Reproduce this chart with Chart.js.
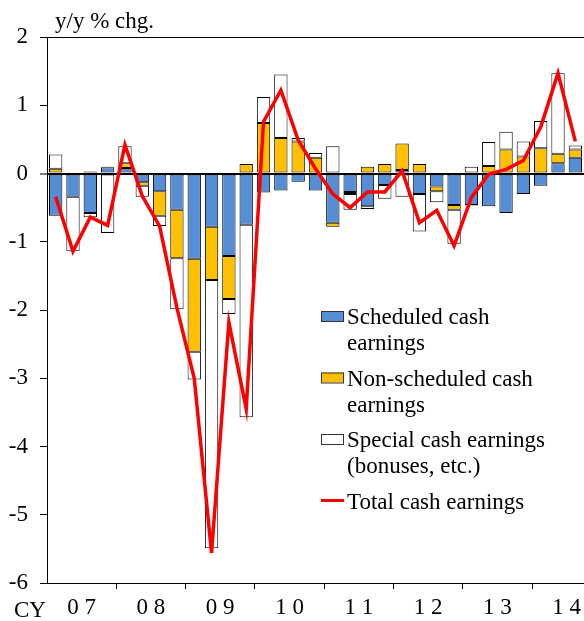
<!DOCTYPE html>
<html>
<head>
<meta charset="utf-8">
<script src="https://cdn.jsdelivr.net/npm/chart.js@4.4.1/dist/chart.umd.min.js"></script>
<style>html,body{margin:0;padding:0;background:#fff}</style>
</head>
<body>
<canvas id="myChart" width="584" height="621"></canvas>
<script>
// quarters, CY2007 Q1 .. CY2014 Q3
const quarters = [
  '07Q1','07Q2','07Q3','07Q4','08Q1','08Q2','08Q3','08Q4',
  '09Q1','09Q2','09Q3','09Q4','10Q1','10Q2','10Q3','10Q4',
  '11Q1','11Q2','11Q3','11Q4','12Q1','12Q2','12Q3','12Q4',
  '13Q1','13Q2','13Q3','13Q4','14Q1','14Q2','14Q3'
];
const yearLabels = ['0 7', '0 8', '0 9', '1 0', '1 1', '1 2', '1 3', '1 4'];

// y/y % chg. contributions
const scheduled = [
  -0.62, -0.34, -0.58, 0.09, 0.08, -0.13, -0.26, -0.53,
  -1.25, -0.78, -1.21, -0.75, -0.28, -0.25, -0.12, -0.25,
  -0.72, -0.27, -0.48, -0.17, 0.05, -0.30, -0.19, -0.46,
  -0.46, -0.48, -0.58, -0.30, -0.18, 0.15, 0.23
];
const nonScheduled = [
  0.07, 0.00, 0.03, 0.01, 0.07, -0.05, -0.36, -0.71,
  -1.36, -0.78, -0.63, 0.14, 0.74, 0.52, 0.47, 0.23,
  -0.06, -0.03, 0.10, 0.14, 0.39, 0.14, -0.07, -0.07,
  -0.01, 0.11, 0.35, 0.25, 0.37, 0.14, 0.12
];
const special = [
  0.21, -0.80, -0.06, -0.87, 0.25, -0.16, -0.15, -0.75,
  -0.41, -3.93, -0.22, -2.82, 0.38, 0.93, 0.05, 0.07,
  0.40, -0.23, -0.04, -0.20, -0.34, -0.55, -0.16, -0.50,
  0.10, 0.35, 0.26, 0.22, 0.40, 1.18, 0.06
];
const total = [
  -0.34, -1.14, -0.64, -0.76, 0.42, -0.33, -0.77, -1.97,
  -3.00, -5.56, -2.18, -3.45, 0.76, 1.22, 0.49, 0.07,
  -0.30, -0.50, -0.27, -0.27, 0.04, -0.72, -0.54, -1.06,
  -0.35, -0.01, 0.06, 0.19, 0.68, 1.47, 0.47
];

const FONT = '"Liberation Serif", "Times New Roman", serif';
const BLUE = '#558ED5';
const YELLOW = '#FFC000';
const RED = '#FF0000';

const legendItems = [
  { lines: ['Scheduled cash', 'earnings'], color: BLUE, kind: 'box' },
  { lines: ['Non-scheduled cash', 'earnings'], color: YELLOW, kind: 'box' },
  { lines: ['Special cash earnings', '(bonuses, etc.)'], color: '#FFFFFF', kind: 'box' },
  { lines: ['Total cash earnings'], color: RED, kind: 'line' }
];

// texts outside the axes + legend
const overlay = {
  id: 'overlay',
  afterDraw(chart) {
    const ctx = chart.ctx;
    ctx.save();
    ctx.font = '23px ' + FONT;
    ctx.fillStyle = '#000';
    ctx.textBaseline = 'alphabetic';
    ctx.textAlign = 'left';
    ctx.fillText('y/y % chg.', 55, 28);
    ctx.fillText('CY', 14, 617);

    let base = 324;
    legendItems.forEach(item => {
      if (item.kind === 'box') {
        ctx.fillStyle = item.color;
        ctx.fillRect(321, base - 13, 23, 10);
        ctx.strokeStyle = '#333';
        ctx.lineWidth = 1;
        ctx.strokeRect(321.5, base - 12.5, 22, 10);
      } else {
        ctx.strokeStyle = item.color;
        ctx.lineWidth = 3;
        ctx.beginPath();
        ctx.moveTo(321, base - 8);
        ctx.lineTo(344, base - 8);
        ctx.stroke();
      }
      ctx.fillStyle = '#000';
      item.lines.forEach((t, i) => ctx.fillText(t, 347, base + i * 26));
      base += 61.5;
    });
    ctx.restore();
  }
};

const barCommon = {
  borderColor: '#000',
  borderWidth: 1,
  borderSkipped: false,
  barPercentage: 0.77,
  categoryPercentage: 1.0,
  order: 1
};

const ctx = document.getElementById('myChart').getContext('2d');

new Chart(ctx, {
  data: {
    labels: quarters,
    datasets: [
      { type: 'bar', label: 'Scheduled cash earnings', data: scheduled, backgroundColor: BLUE, ...barCommon },
      { type: 'bar', label: 'Non-scheduled cash earnings', data: nonScheduled, backgroundColor: YELLOW, ...barCommon },
      { type: 'bar', label: 'Special cash earnings (bonuses, etc.)', data: special, backgroundColor: '#FFFFFF', ...barCommon },
      {
        type: 'line', label: 'Total cash earnings', data: total,
        borderColor: RED, borderWidth: 3.5, pointRadius: 0, tension: 0,
        fill: false, stack: 'total', order: 0
      }
    ]
  },
  options: {
    responsive: false,
    animation: false,
    layout: { padding: { top: 37, right: 0, left: 0, bottom: 0 } },
    plugins: { legend: { display: false }, tooltip: { enabled: false } },
    scales: {
      x: {
        stacked: true,
        offset: true,
        afterFit: s => { s.height = 38; },
        border: { display: true, color: '#000', width: 1 },
        grid: {
          offset: true,
          drawOnChartArea: false,
          tickLength: 6,
          color: c => (c.index % 4 === 0 && c.index > 0) ? '#000' : 'rgba(0,0,0,0)'
        },
        ticks: {
          autoSkip: false,
          maxRotation: 0,
          minRotation: 0,
          padding: 5,
          labelOffset: 8.66,
          color: '#000',
          font: { family: FONT, size: 23 },
          callback: (v, i) => (i % 4 === 1 ? yearLabels[(i - 1) / 4] : '')
        }
      },
      y: {
        stacked: true,
        min: -6,
        max: 2,
        afterFit: s => { s.width = 47; },
        border: { display: true, color: '#000', width: 1 },
        grid: {
          drawOnChartArea: true,
          tickLength: 7,
          tickColor: '#000',
          tickWidth: 1,
          color: c => (c.tick && (c.tick.value === 0 || c.tick.value === 2)) ? '#000' : 'rgba(0,0,0,0)',
          lineWidth: c => (c.tick && c.tick.value === 0 ? 2 : 1)
        },
        ticks: {
          stepSize: 1,
          padding: 12,
          color: '#000',
          font: { family: FONT, size: 23 }
        }
      }
    }
  },
  plugins: [overlay]
});
</script>
</body>
</html>
